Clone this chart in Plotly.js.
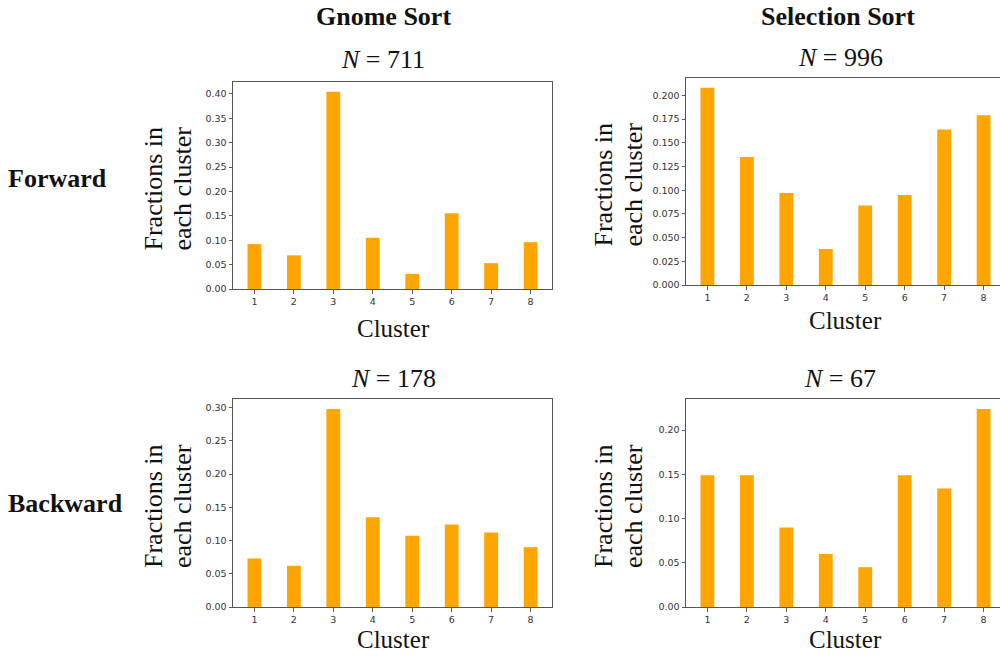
<!DOCTYPE html>
<html>
<head>
<meta charset="utf-8">
<script src="https://cdn.plot.ly/plotly-3.0.1.min.js"></script>
<style>
html, body { margin: 0; padding: 0; overflow: hidden; background: #fff; }
#chart { width: 1010px; height: 656px; }
</style>
</head>
<body>
<div id="chart"></div>
<script>
// ---- data ----
const clusters = [1, 2, 3, 4, 5, 6, 7, 8];
const gnomeForward      = [0.092, 0.069, 0.404, 0.105, 0.031, 0.155, 0.053, 0.096];
const selectionForward  = [0.208, 0.135, 0.097, 0.038, 0.084, 0.095, 0.164, 0.179];
const gnomeBackward     = [0.073, 0.062, 0.298, 0.135, 0.107, 0.124, 0.112, 0.090];
const selectionBackward = [0.149, 0.149, 0.090, 0.060, 0.045, 0.149, 0.134, 0.224];
const columnTitles = ["Gnome Sort", "Selection Sort"];
const rowTitles = ["Forward", "Backward"];
const nLabels = ["711", "996", "178", "67"];
const yTitleLines = ["Fractions in", "each cluster"];
const xTitle = "Cluster";

// ---- layout helpers (pixels -> paper) ----
const W = 1010, H = 656;
const px = v => v / W;
const py = v => 1 - v / H;

const panels = [
  {data: gnomeForward,      box: [233, 552, 82, 289],  dtick: 0.05,  fmt: ".2f", n: nLabels[0], nx: 383, ny: 60,  ytx: [153, 182], cx: 393, cy: 328},
  {data: selectionForward,  box: [686, 1005, 78, 285], dtick: 0.025, fmt: ".3f", n: nLabels[1], nx: 840, ny: 57,  ytx: [603, 633], cx: 845, cy: 320},
  {data: gnomeBackward,     box: [233, 552, 399, 607], dtick: 0.05,  fmt: ".2f", n: nLabels[2], nx: 393, ny: 378, ytx: [153, 182], cx: 393, cy: 639},
  {data: selectionBackward, box: [686, 1005, 399, 607],dtick: 0.05,  fmt: ".2f", n: nLabels[3], nx: 840, ny: 378, ytx: [603, 633], cx: 845, cy: 639}
];

const serif = "Liberation Serif, Times New Roman, serif";
const traces = [];
const layout = {
  width: W, height: H,
  margin: {l: 0, r: 0, t: 0, b: 0},
  paper_bgcolor: "#ffffff",
  plot_bgcolor: "#ffffff",
  showlegend: false,
  annotations: []
};

const barWidth = 0.35;
panels.forEach((p, i) => {
  const k = i === 0 ? "" : String(i + 1);
  traces.push({
    type: "bar",
    x: clusters,
    y: p.data,
    width: barWidth,
    marker: {color: "#FFA500", line: {width: 0}},
    xaxis: "x" + k,
    yaxis: "y" + k,
    hoverinfo: "x+y"
  });
  const ymax = Math.max(...p.data) * 1.05;
  const axCommon = {
    showline: true, mirror: true, linecolor: "#555", linewidth: 1,
    showgrid: false, zeroline: false,
    ticks: "outside", ticklen: 3.5, tickwidth: 0.8, tickcolor: "#333",
    tickfont: {family: "DejaVu Sans, sans-serif", size: 9.5, color: "#333"}
  };
  layout["xaxis" + k] = Object.assign({}, axCommon, {
    domain: [px(p.box[0]), px(p.box[1])],
    anchor: "y" + k,
    range: [1 - 0.5425, 8.5425],
    tickvals: clusters,
    ticktext: clusters.map(String)
  });
  layout["yaxis" + k] = Object.assign({}, axCommon, {
    domain: [py(p.box[3]), py(p.box[2])],
    anchor: "x" + k,
    range: [0, ymax],
    dtick: p.dtick,
    tick0: 0,
    tickformat: p.fmt
  });
  // N = ...
  layout.annotations.push({
    xref: "paper", yref: "paper", x: px(p.nx), y: py(p.ny),
    xanchor: "center", yanchor: "middle", showarrow: false,
    text: "<i>N</i> = " + p.n,
    font: {family: serif, size: 26, color: "#111"}
  });
  // y-axis title (two lines)
  yTitleLines.forEach((t, j) => {
    layout.annotations.push({
      xref: "paper", yref: "paper", x: px(p.ytx[j]), y: py((p.box[2] + p.box[3]) / 2 + 3),
      xanchor: "center", yanchor: "middle", showarrow: false, textangle: -90,
      text: t,
      font: {family: serif, size: 26, color: "#111"}
    });
  });
  // x-axis title
  layout.annotations.push({
    xref: "paper", yref: "paper", x: px(p.cx), y: py(p.cy),
    xanchor: "center", yanchor: "middle", showarrow: false,
    text: xTitle,
    font: {family: serif, size: 25, color: "#111"}
  });
});

// column titles
[[columnTitles[0], 383], [columnTitles[1], 838]].forEach(([t, x]) => {
  layout.annotations.push({
    xref: "paper", yref: "paper", x: px(x), y: py(17),
    xanchor: "center", yanchor: "middle", showarrow: false,
    text: "<b>" + t + "</b>",
    font: {family: serif, size: 26, color: "#111"}
  });
});
// row titles
[[rowTitles[0], 178], [rowTitles[1], 503]].forEach(([t, y]) => {
  layout.annotations.push({
    xref: "paper", yref: "paper", x: px(6), y: py(y),
    xanchor: "left", yanchor: "middle", showarrow: false,
    text: "<b>" + t + "</b>",
    font: {family: serif, size: 26, color: "#111"}
  });
});

Plotly.newPlot("chart", traces, layout, {displayModeBar: false, staticPlot: true});
</script>
</body>
</html>
